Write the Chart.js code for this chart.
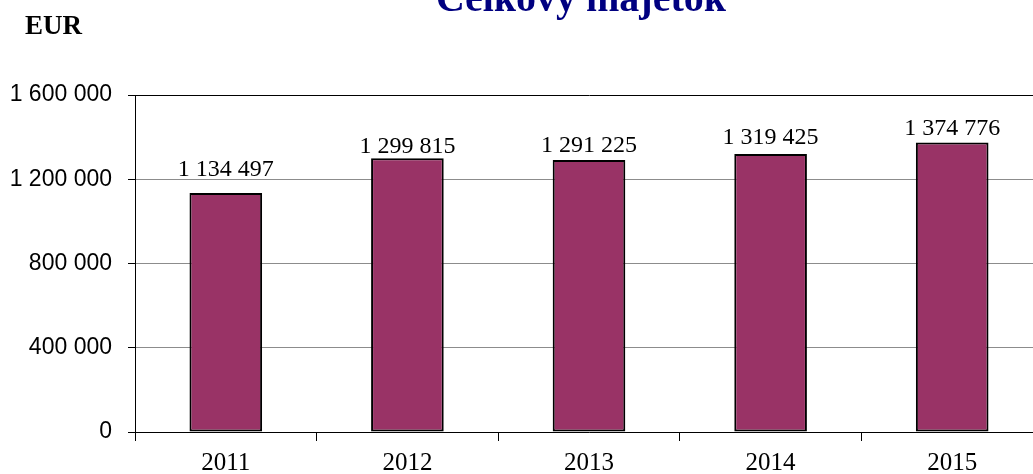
<!DOCTYPE html>
<html>
<head>
<meta charset="utf-8">
<script src="https://cdn.jsdelivr.net/npm/chart.js@4.4.0/dist/chart.umd.min.js"></script>
<style>
    html, body { margin: 0; padding: 0; overflow: hidden; background: #fff; }
    #wrap { width: 1050px; height: 474px; }
</style>
</head>
<body>
<div id="wrap"><canvas id="chart" width="1050" height="474"></canvas></div>
<script>
// data
const years = ['2011', '2012', '2013', '2014', '2015'];
const totalAssets = [1134497, 1299815, 1291225, 1319425, 1374776];
const yTicks = [0, 400000, 800000, 1200000, 1600000];

const chartTitle = 'Celkový majetok';
const unitLabel = 'EUR';

// distance (px) between value label baseline and bar top, as in the original
const labelGap = [17, 5, 8, 10, 7];

const serif = '"Liberation Serif", "Times New Roman", serif';
const sans = '"Liberation Sans", Arial, sans-serif';

function spaced(v) {
    return String(v).replace(/\B(?=(\d{3})+(?!\d))/g, ' ');
}

// title, unit and value labels
const textPlugin = {
    id: 'texts',
    afterDatasetsDraw(chart) {
        const ctx = chart.ctx;
        ctx.save();
        ctx.fillStyle = '#000080';
        ctx.font = 'bold 40px ' + serif;
        ctx.textAlign = 'center';
        ctx.textBaseline = 'alphabetic';
        ctx.fillText(chartTitle, 581, 11);

        ctx.fillStyle = '#000';
        ctx.font = 'bold 27px ' + serif;
        ctx.textAlign = 'left';
        ctx.fillText(unitLabel, 25, 34);

        ctx.font = '24px ' + serif;
        ctx.textAlign = 'center';
        const meta = chart.getDatasetMeta(0);
        meta.data.forEach((bar, i) => {
            ctx.fillText(spaced(totalAssets[i]), bar.x, bar.y - labelGap[i]);
        });
        ctx.restore();
    }
};

new Chart(document.getElementById('chart'), {
    type: 'bar',
    data: {
        labels: years,
        datasets: [{
            data: totalAssets,
            backgroundColor: '#993366',
            borderColor: '#000',
            borderWidth: 2,
            borderSkipped: false,
            categoryPercentage: 1,
            barPercentage: 0.4
        }]
    },
    options: {
        responsive: false,
        animation: false,
        layout: { padding: { top: 95, right: 7, left: 0, bottom: 0 } },
        plugins: {
            legend: { display: false },
            tooltip: { enabled: false },
            title: { display: false }
        },
        scales: {
            x: {
                grid: {
                    offset: true,
                    drawOnChartArea: false,
                    drawTicks: true,
                    tickLength: 9,
                    color: '#000'
                },
                border: { color: '#000', width: 1 },
                ticks: {
                    color: '#000',
                    padding: 7,
                    font: { family: serif, size: 25 }
                },
                afterFit(scale) {
                    scale.height = 42;
                }
            },
            y: {
                min: 0,
                max: 1600000,
                afterBuildTicks(scale) {
                    scale.ticks = yTicks.map(v => ({ value: v }));
                },
                grid: {
                    color: ctx => ctx.tick && ctx.tick.value === 1600000 ? '#000' : '#8c8c8c',
                    tickColor: '#000',
                    tickLength: 7,
                    lineWidth: 1
                },
                border: { color: '#000', width: 1 },
                ticks: {
                    color: '#000',
                    padding: 16,
                    font: { family: sans, size: 23 },
                    callback: v => spaced(v)
                },
                afterFit(scale) {
                    scale.width = 135;
                    scale.paddingTop = 0;
                    scale.paddingBottom = 0;
                }
            }
        }
    },
    plugins: [textPlugin]
});
</script>
</body>
</html>
